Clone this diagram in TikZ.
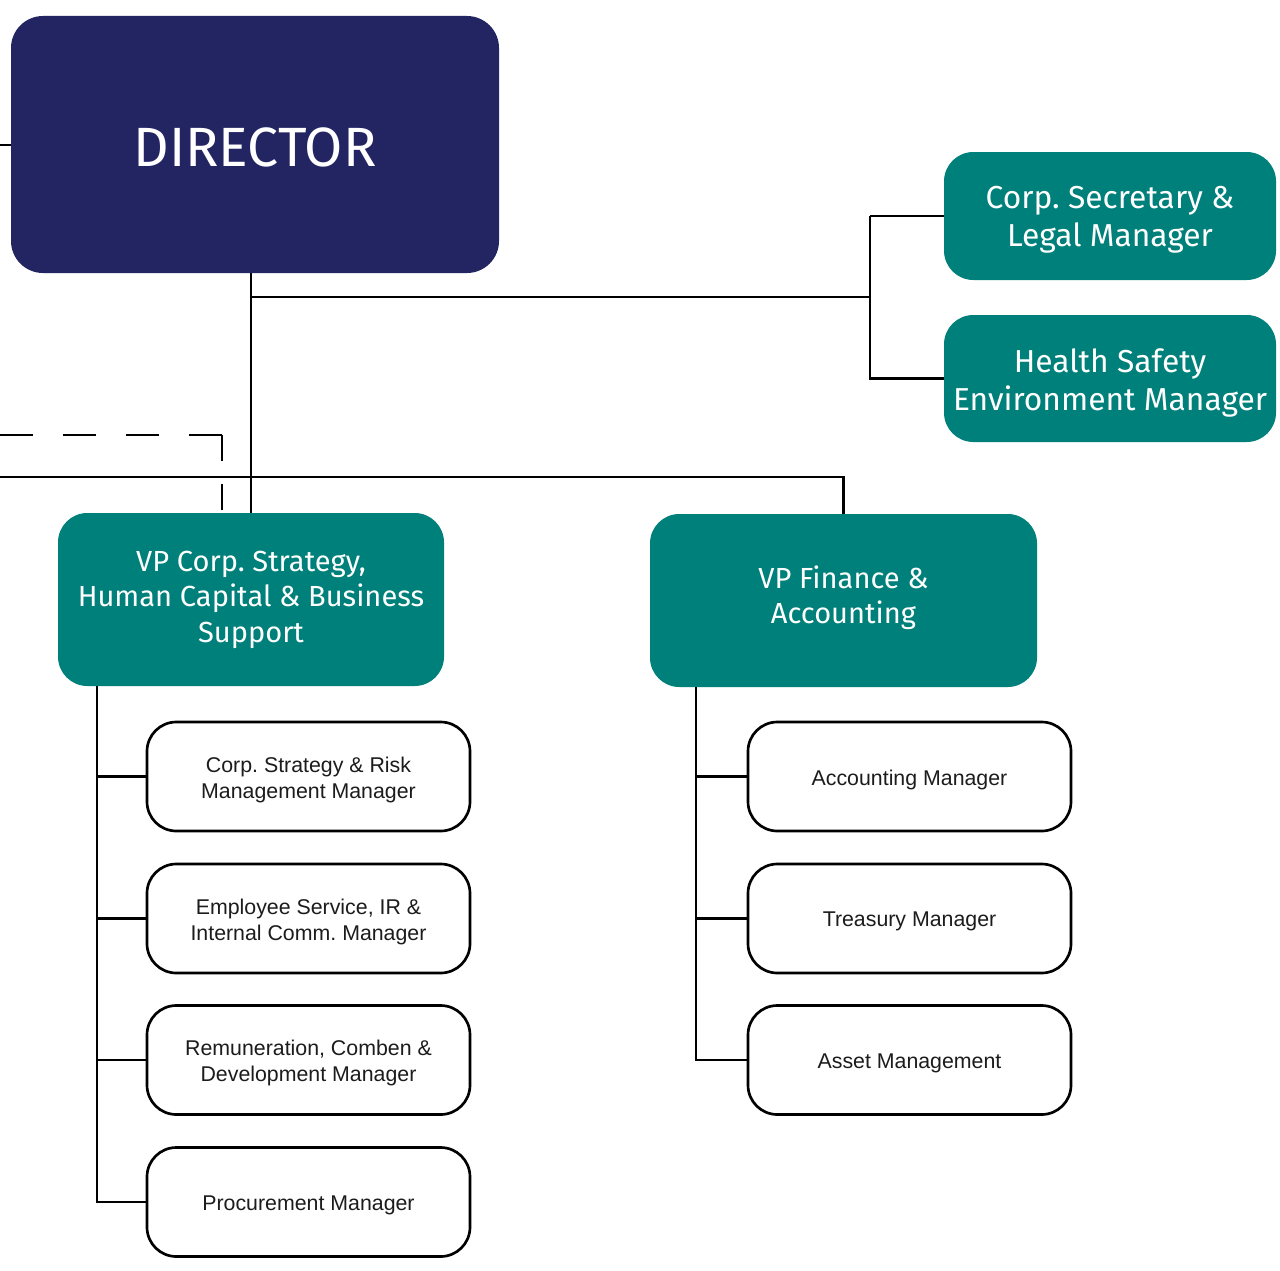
\documentclass[tikz,border=0pt]{standalone}
\usepackage{fontspec}
\newfontfamily\headfont{Fira Sans}
\newfontfamily\bodyfont{Liberation Sans}
\definecolor{navybox}{RGB}{35,37,99}
\definecolor{tealbox}{RGB}{0,128,122}
\definecolor{ink}{RGB}{28,28,28}
\frenchspacing
\begin{document}
\begin{tikzpicture}[x=0.75pt,y=-0.75pt,
  conn/.style={line width=2pt,black},
  dirbox/.style={fill=navybox,rounded corners=24pt,inner sep=0pt,outer sep=0pt,
    minimum width=366pt,minimum height=192.75pt},
  dirtext/.style={text=white,inner sep=0pt,font=\headfont\fontsize{41.5}{46}\selectfont},
  leadbox/.style={fill=tealbox,rounded corners=22pt,inner sep=0pt,outer sep=0pt},
  sidetext/.style={text=white,align=center,inner sep=0pt,
    font=\headfont\fontsize{23.8}{28.5}\selectfont},
  vptext/.style={text=white,align=center,inner sep=0pt,
    font=\headfont\fontsize{21.8}{26.6}\selectfont},
  staffbox/.style={draw=black,line width=2pt,fill=white,rounded corners=22pt,
    inner sep=0pt,outer sep=0pt,minimum width=242.25pt,minimum height=81.75pt},
  stafftext/.style={text=ink,align=center,inner sep=0pt,
    font=\bodyfont\frenchspacing\fontsize{16}{19.5}\selectfont}]
\useasboundingbox (0,0) rectangle (1280,1270);

% top level
\node[dirbox] (dir) at (255,144.5) {};
\node[dirtext] (dir-t) at ([yshift=-2.5pt]dir.center) {DIRECTOR};

% staff functions reporting to the director
\node[leadbox,minimum width=249pt,minimum height=96pt] (sec) at (1110,216) {};
\node[sidetext] (sec-t) at ([yshift=-2.5pt]sec.center) {Corp. Secretary \&\\Legal Manager};
\node[leadbox,minimum width=249pt,minimum height=95.25pt] (hse) at (1110,378.5) {};
\node[sidetext] (hse-t) at ([yshift=-3pt]hse.center) {Health Safety\\Environment Manager};

% vice presidents
\node[leadbox,minimum width=289.5pt,minimum height=129.75pt] (vpc) at (251,599.5) {};
\node[vptext] (vpc-t) at ([yshift=0pt]vpc.center) {VP Corp. Strategy,\\Human Capital \& Business\\Support};
\node[leadbox,minimum width=290.25pt,minimum height=129.75pt] (vpf) at (843.5,600.5) {};
\node[vptext] (vpf-t) at ([yshift=2pt]vpf.center) {VP Finance \&\\Accounting};

% managers under VP Corp. Strategy
\node[staffbox] (s1) at (308.5,776.5) {};
\node[staffbox] (s2) at (308.5,918.5) {};
\node[staffbox] (s3) at (308.5,1060) {};
\node[staffbox] (s4) at (308.5,1202) {};
\node[stafftext] (s1-t) at ([yshift=-2.25pt]s1.center) {Corp. Strategy \& Risk\\Management Manager};
\node[stafftext] (s2-t) at ([yshift=-2.25pt]s2.center) {Employee Service, IR \&\\Internal Comm. Manager};
\node[stafftext] (s3-t) at ([yshift=-2.25pt]s3.center) {Remuneration, Comben \&\\Development Manager};
\node[stafftext] (s4-t) at ([yshift=-2.25pt]s4.center) {Procurement Manager};

% managers under VP Finance
\node[staffbox] (f1) at (909.5,776.5) {};
\node[staffbox] (f2) at (909.5,918.5) {};
\node[staffbox] (f3) at (909.5,1060) {};
\node[stafftext] (f1-t) at ([yshift=-2.25pt]f1.center) {Accounting Manager};
\node[stafftext] (f2-t) at ([yshift=-2.25pt]f2.center) {Treasury Manager};
\node[stafftext] (f3-t) at ([yshift=-2.25pt]f3.center) {Asset Management};

% helper points for the trunk lines
\coordinate (lstub) at (0,145);
\coordinate (hub) at (870,297);
\coordinate (wide) at (0,477);
\coordinate (dashstart) at (0,435);
\coordinate (dashcorner) at (222,435);
\coordinate (lbus) at (97,0);
\coordinate (rbus) at (696,0);

% director links
\draw[conn] (lstub) -- (dir.west |- lstub);
\draw[conn] (dir.south -| vpc.north) -- (vpc.north);
\draw[conn] (vpc.north |- hub) -- (hub);
\draw[conn] (hub |- sec.west) |- (hse.west);
\draw[conn] (hub |- sec.west) -- (sec.west);
\draw[conn] (wide) -| (vpf.north);

% dotted-line reporting
\draw[conn,dash pattern=on 24.75pt off 22.5pt] (dashstart) -- (dashcorner);
\draw[conn,dash pattern=on 19.5pt off 17pt] (dashcorner) -- (dashcorner |- vpc.north);

% left bus
\draw[conn] (lbus |- vpc.south) |- (s4.west);
\draw[conn] (lbus |- s1.west) -- (s1.west);
\draw[conn] (lbus |- s2.west) -- (s2.west);
\draw[conn] (lbus |- s3.west) -- (s3.west);

% right bus
\draw[conn] (rbus |- vpf.south) |- (f3.west);
\draw[conn] (rbus |- f1.west) -- (f1.west);
\draw[conn] (rbus |- f2.west) -- (f2.west);
\end{tikzpicture}
\end{document}
